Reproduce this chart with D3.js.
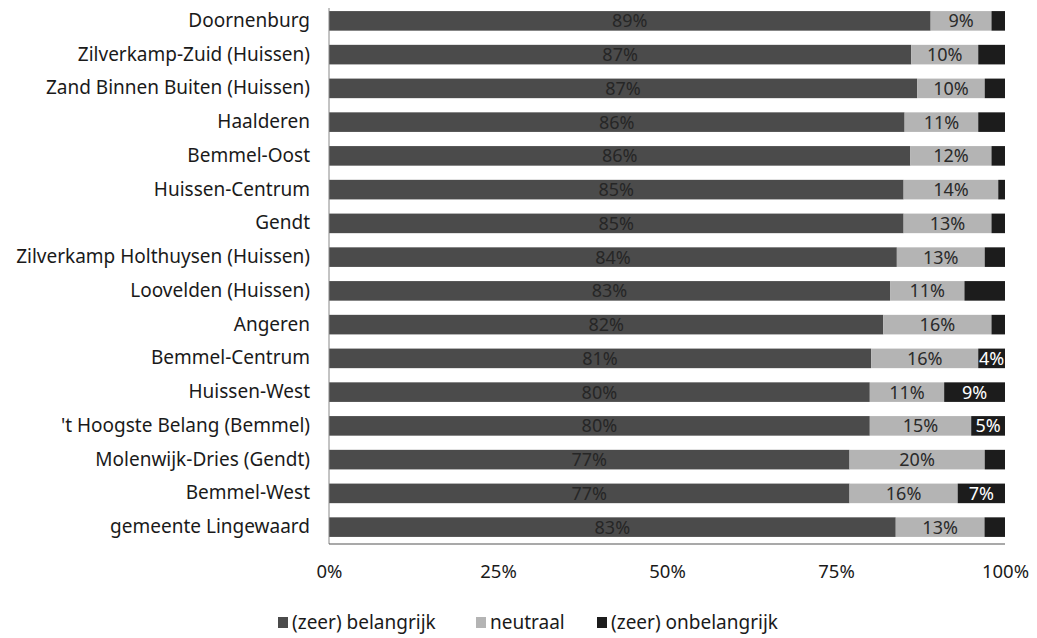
<!DOCTYPE html>
<html lang="nl">
<head>
    <meta charset="UTF-8">
    <title>Belang per wijk</title>
    <style>
        body { margin: 0; background: #fff; font-family: 'Noto Sans', sans-serif; }
        svg { display: block; }
    </style>
</head>
<body>
    <svg id="chart" width="1037" height="638"></svg>
    <script src="https://d3js.org/d3.v7.min.js"></script>
    <script>
        // categories, top to bottom
        const wijken = [
            "Doornenburg", "Zilverkamp-Zuid (Huissen)", "Zand Binnen Buiten (Huissen)", "Haalderen",
            "Bemmel-Oost", "Huissen-Centrum", "Gendt", "Zilverkamp Holthuysen (Huissen)",
            "Loovelden (Huissen)", "Angeren", "Bemmel-Centrum", "Huissen-West",
            "'t Hoogste Belang (Bemmel)", "Molenwijk-Dries (Gendt)", "Bemmel-West", "gemeente Lingewaard"
        ];
        const belangrijk   = [89, 87, 87, 86, 86, 85, 85, 84, 83, 82, 81, 80, 80, 77, 77, 83];
        const neutraal     = [9, 10, 10, 11, 12, 14, 13, 13, 11, 16, 16, 11, 15, 20, 16, 13];
        const onbelangrijk = [2, 4, 3, 4, 2, 1, 2, 3, 6, 2, 4, 9, 5, 3, 7, 3];
        // only these black segments carry a label in the original
        const onbelangrijkLabel = [null, null, null, null, null, null, null, null,
                                   null, null, "4%", "9%", "5%", null, "7%", null];

        const seriesNames = ["(zeer) belangrijk", "neutraal", "(zeer) onbelangrijk"];
        const seriesKeys = ["b", "n", "o"];
        const xTicks = [0, 0.25, 0.5, 0.75, 1];

        const colors = { b: "#4b4b4b", n: "#b4b4b4", o: "#1c1c1c" };
        const textColors = { b: "#262626", n: "#2a2a2a", o: "#ffffff" };
        const FONT = "'Noto Sans', sans-serif";

        const rows = wijken.map((w, i) => ({
            wijk: w, b: belangrijk[i], n: neutraal[i], o: onbelangrijk[i], oLabel: onbelangrijkLabel[i]
        }));

        const svg = d3.select("#chart");
        const mLeft = 329, mRight = 1005, mTop = 4, mBottom = 544;

        const x = d3.scaleLinear().domain([0, 1]).range([mLeft, mRight]);
        const y = d3.scaleBand().domain(wijken).range([mTop, mBottom]).paddingInner(0.42).paddingOuter(0.21);

        // 100% stacked, like the original
        const stacked = d3.stack().keys(seriesKeys).offset(d3.stackOffsetExpand)(rows);

        const groups = svg.append("g").selectAll("g")
            .data(stacked)
            .join("g")
            .attr("fill", d => colors[d.key]);

        groups.selectAll("rect")
            .data(d => d.map(v => Object.assign(v, { key: d.key })))
            .join("rect")
            .attr("x", d => x(d[0]))
            .attr("width", d => x(d[1]) - x(d[0]))
            .attr("y", d => y(d.data.wijk))
            .attr("height", y.bandwidth());

        // value labels
        const labelText = d => d.key === "o" ? d.data.oLabel : d.data[d.key] + "%";
        groups.selectAll("text")
            .data(d => d.filter(v => labelText(v)))
            .join("text")
            .attr("x", d => (x(d[0]) + x(d[1])) / 2)
            .attr("y", d => y(d.data.wijk) + y.bandwidth() / 2)
            .attr("dy", "0.36em")
            .attr("text-anchor", "middle")
            .attr("font-size", 18)
            .attr("font-family", FONT)
            .attr("fill", d => textColors[d.key])
            .text(labelText);

        // category axis
        const yAxis = svg.append("g")
            .attr("transform", `translate(${mLeft},0)`)
            .call(d3.axisLeft(y).tickSize(0).tickPadding(19));
        yAxis.select(".domain").attr("stroke", "#888").attr("d", `M0,${mTop + 4}V${mBottom}`);
        yAxis.selectAll("text").attr("font-size", 19).attr("fill", "#1a1a1a")
            .attr("font-family", FONT);

        // bottom line
        svg.append("line")
            .attr("x1", mLeft).attr("x2", mRight)
            .attr("y1", mBottom).attr("y2", mBottom)
            .attr("stroke", "#555").attr("stroke-width", 1.2);

        // percentage axis
        const xAxis = svg.append("g")
            .attr("transform", `translate(0,${mBottom})`)
            .call(d3.axisBottom(x).tickValues(xTicks).tickFormat(d3.format(".0%")).tickSize(0).tickPadding(21));
        xAxis.select(".domain").remove();
        xAxis.selectAll("text").attr("font-size", 18.5).attr("fill", "#1a1a1a")
            .attr("font-family", FONT);

        // legend
        const legendX = [278, 476, 597];
        const legend = svg.append("g").selectAll("g")
            .data(seriesKeys)
            .join("g")
            .attr("transform", (d, i) => `translate(${legendX[i]},622)`);
        legend.append("rect")
            .attr("x", 0).attr("y", -5).attr("width", 10).attr("height", 11)
            .attr("fill", d => colors[d]);
        legend.append("text")
            .attr("x", 14).attr("y", 0).attr("dy", "0.35em")
            .attr("font-size", 19).attr("fill", "#1a1a1a").attr("font-family", FONT)
            .text((d, i) => seriesNames[i]);
    </script>
</body>
</html>
